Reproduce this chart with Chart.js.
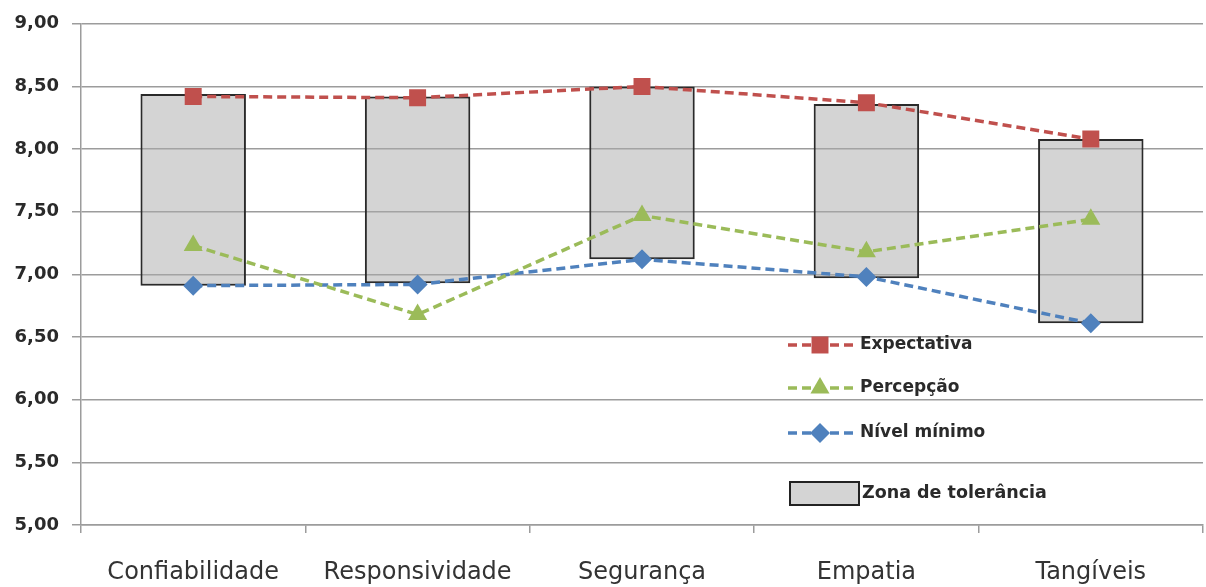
<!DOCTYPE html>
<html>
<head>
<meta charset="utf-8">
<script src="https://cdn.jsdelivr.net/npm/chart.js@4/dist/chart.umd.min.js"></script>
<style>
  html, body { margin: 0; padding: 0; background: #fff; }
  #wrap { width: 1206px; height: 587px; }
</style>
</head>
<body>
<div id="wrap"><canvas id="gapChart" width="1206" height="587"></canvas></div>
<script>
// dimensions of the service quality gap chart
const categorias = ['Confiabilidade', 'Responsividade', 'Segurança', 'Empatia', 'Tangíveis'];
const expectativa = [8.42, 8.41, 8.50, 8.37, 8.08];
const percepcao = [7.23, 6.68, 7.47, 7.18, 7.44];
const nivelMinimo = [6.91, 6.92, 7.12, 6.98, 6.61];
// zone of tolerance: from the minimum level up to the expectation
const zonaBase = [6.91, 6.93, 7.12, 6.97, 6.61];
const zonaTopo = [8.44, 8.42, 8.50, 8.36, 8.08];
const yTicks = [5.0, 5.5, 6.0, 6.5, 7.0, 7.5, 8.0, 8.5, 9.0];

const RED = 'rgb(192, 80, 77)';
const GREEN = 'rgb(155, 187, 89)';
const BLUE = 'rgb(79, 129, 189)';
const GRID = '#9c9c9c';

const ctx = document.getElementById('gapChart').getContext('2d');

// legend drawn inside the plot, like the original
const insideLegend = {
    id: 'insideLegend',
    afterDatasetsDraw(chart) {
        const c = chart.ctx;
        const rows = [
            { ds: 0, y: 345 },
            { ds: 1, y: 388 },
            { ds: 2, y: 433 },
        ];
        c.save();
        c.font = 'bold 17px "DejaVu Sans"';
        c.textBaseline = 'middle';
        rows.forEach(r => {
            const ds = chart.data.datasets[r.ds];
            c.strokeStyle = ds.borderColor;
            c.lineWidth = 3.5;
            c.setLineDash([9, 5]);
            c.beginPath();
            c.moveTo(788, r.y);
            c.lineTo(853, r.y);
            c.stroke();
            c.setLineDash([]);
            c.fillStyle = ds.pointBackgroundColor;
            c.strokeStyle = ds.pointBackgroundColor;
            Chart.helpers.drawPoint(c, { pointStyle: ds.pointStyle, radius: ds.pointRadius, borderWidth: 0 }, 820, r.y);
            c.fillStyle = '#2a2a2a';
            c.fillText(ds.label, 860, r.y);
        });
        const zona = chart.data.datasets[3];
        c.fillStyle = zona.backgroundColor;
        c.fillRect(790, 482, 69, 23);
        c.strokeStyle = '#222';
        c.lineWidth = 2;
        c.strokeRect(790, 482, 69, 23);
        c.fillStyle = '#2a2a2a';
        c.font = 'bold 17.5px "DejaVu Sans"';
        c.fillText(zona.label, 862, 493);
        c.restore();
    }
};

const gapConfig = {
    data: {
        labels: categorias,
        datasets: [{
            type: 'line',
            label: 'Expectativa',
            data: expectativa,
            borderColor: RED,
            borderWidth: 3.5,
            borderDash: [9, 5],
            pointStyle: 'rect',
            pointRadius: 12,
            pointBackgroundColor: RED,
            pointBorderWidth: 0,
            order: 1,
        }, {
            type: 'line',
            label: 'Percepção',
            data: percepcao,
            borderColor: GREEN,
            borderWidth: 3.5,
            borderDash: [9, 5],
            pointStyle: 'triangle',
            pointRadius: 11,
            pointBackgroundColor: GREEN,
            pointBorderWidth: 0,
            order: 2,
        }, {
            type: 'line',
            label: 'Nível mínimo',
            data: nivelMinimo,
            borderColor: BLUE,
            borderWidth: 3.5,
            borderDash: [9, 5],
            pointStyle: 'rectRot',
            pointRadius: 10,
            pointBackgroundColor: BLUE,
            pointBorderWidth: 0,
            order: 3,
        }, {
            type: 'bar',
            label: 'Zona de tolerância',
            data: zonaBase.map((b, i) => [b, zonaTopo[i]]),
            backgroundColor: 'rgba(170, 170, 170, 0.5)',
            borderColor: '#2a2a2a',
            borderWidth: 2,
            borderSkipped: false,
            barPercentage: 0.47,
            categoryPercentage: 1,
            order: 4,
        }],
    },
    options: {
        responsive: false,
        animation: false,
        layout: { autoPadding: false, padding: { top: 20, right: 3, left: 0, bottom: 0 } },
        plugins: {
            legend: { display: false },
            tooltip: { enabled: false },
        },
        scales: {
            x: {
                offset: true,
                grid: {
                    offset: true,
                    drawOnChartArea: false,
                    color: GRID,
                    lineWidth: 1.5,
                    tickLength: 8,
                },
                border: { color: GRID, width: 1.5 },
                ticks: {
                    color: '#333',
                    font: { family: 'DejaVu Sans', size: 24 },
                    padding: 25,
                    maxRotation: 0,
                },
                afterFit(scale) {
                    scale.height = 62;
                    scale.paddingLeft = 0;
                    scale.paddingRight = 0;
                },
            },
            y: {
                min: 5,
                max: 9,
                afterBuildTicks(scale) {
                    scale.ticks = yTicks.map(v => ({ value: v }));
                },
                grid: {
                    color: GRID,
                    lineWidth: 1.5,
                    tickLength: 9,
                },
                border: { color: GRID, width: 1.5 },
                ticks: {
                    color: '#2a2a2a',
                    font: { family: 'DejaVu Sans', size: 18, weight: 'bold' },
                    padding: 13,
                    callback: v => Number(v).toFixed(2).replace('.', ','),
                },
                afterFit(scale) { scale.width = 81; },
            },
        },
    },
    plugins: [insideLegend],
};

new Chart(ctx, gapConfig);
</script>
</body>
</html>
